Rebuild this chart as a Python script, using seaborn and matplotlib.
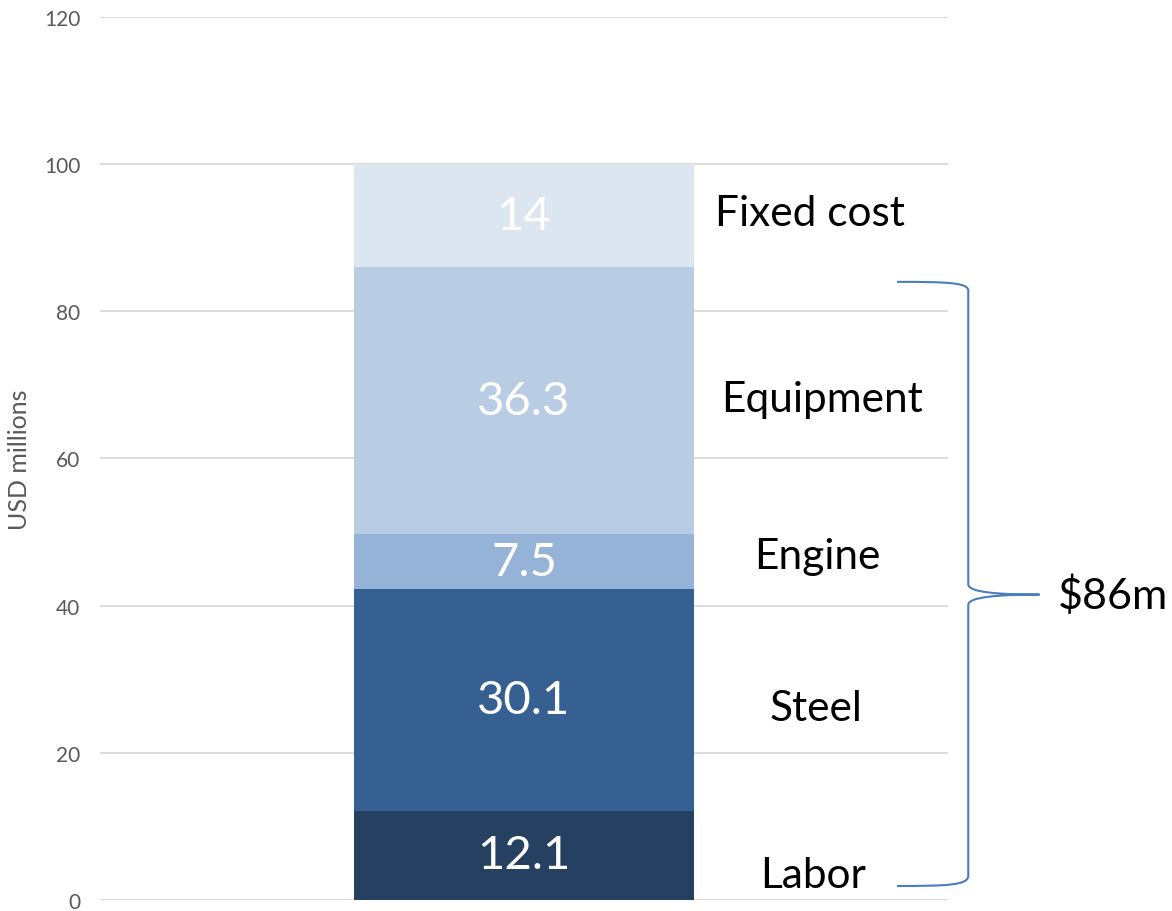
import matplotlib
matplotlib.use("Agg")
import matplotlib.pyplot as plt
from matplotlib.path import Path
from matplotlib.patches import PathPatch
import seaborn as sns
import pandas as pd
import numpy as np

# ---- data ----
categories = ["Labor", "Steel", "Engine", "Equipment", "Fixed cost"]
values = [12.1, 30.1, 7.5, 36.3, 14]
value_labels = ["12.1", "30.1", "7.5", "36.3", "14"]
colors = ["#264061", "#366092", "#95B3D7", "#B8CCE4", "#DCE6F1"]
yticks = [0, 20, 40, 60, 80, 100, 120]
brace_label = "$86m"

sns.set_theme(style="white")
plt.rcParams["font.family"] = ["Lato", "DejaVu Sans"]

fig = plt.figure(figsize=(11.72, 9.12), dpi=100)
ax = fig.add_axes([0.0853, 0.0121, 0.7235, 0.9682])

cum = np.cumsum(values)
bottoms = cum - np.array(values)
df = pd.DataFrame({"stack": ["Total"] * len(values), "cum": cum,
                   "cat": categories})

# draw largest cumulative first so smaller ones overlay
for i in reversed(range(len(values))):
    sns.barplot(data=df.iloc[[i]], x="stack", y="cum", color=colors[i],
                width=0.4, ax=ax, saturation=1, zorder=3, linewidth=0)

ax.set_xlim(-0.5, 0.5)
ax.set_ylim(0, 120)
ax.set_yticks(yticks)
ax.set_yticklabels([str(t) for t in yticks], fontsize=15, color="#595959")
ax.tick_params(axis="y", length=0, pad=14)
ax.set_xticks([])
ax.set_xlabel("")
ax.set_ylabel("USD millions", fontsize=18, color="#595959")
ax.yaxis.set_label_coords(-0.081, 0.5)
for s in ax.spines.values():
    s.set_visible(False)
ax.yaxis.grid(True, color="#D9D9D9", linewidth=1.3, zorder=0)
ax.set_axisbelow(True)

# value labels inside segments
for b, v, lab in zip(bottoms, values, value_labels):
    ax.text(0, b + v / 2, lab, ha="center", va="center", color="white",
            fontsize=34, zorder=5)

# category labels to the right
offsets = [-2.6, -1.0, 0.8, 0.2, 0.3]
xpos = [0.341, 0.344, 0.346, 0.352, 0.337]
for b, v, c, off, xp in zip(bottoms, values, categories, offsets, xpos):
    ax.text(xp, b + v / 2 + off, c, ha="center", va="center",
            color="black", fontsize=30.5, zorder=5)

# brace
top, mid, bot = 84.0, 41.5, 1.9
xt, xv, xm = 0.44, 0.524, 0.608
verts = [
    (xt, top), (0.50, top), (xv, top - 0.1), (xv, top - 1.2),
    (xv, mid + 1.4),
    (xv, mid + 0.3), (0.56, mid), (xm, mid),
    (0.56, mid), (xv, mid - 0.3), (xv, mid - 1.4),
    (xv, bot + 1.4),
    (xv, bot + 0.1), (0.50, bot), (xt, bot),
]
codes = [Path.MOVETO, Path.CURVE4, Path.CURVE4, Path.CURVE4,
         Path.LINETO,
         Path.CURVE4, Path.CURVE4, Path.CURVE4,
         Path.CURVE4, Path.CURVE4, Path.CURVE4,
         Path.LINETO,
         Path.CURVE4, Path.CURVE4, Path.CURVE4]
patch = PathPatch(Path(verts, codes), facecolor="none", edgecolor="#4A7EBB",
                  linewidth=1.5, clip_on=False, zorder=6)
ax.add_patch(patch)
ax.text(0.63, mid, brace_label, ha="left", va="center", fontsize=31,
        color="black", clip_on=False)

fig.savefig("out.png", dpi=100)
